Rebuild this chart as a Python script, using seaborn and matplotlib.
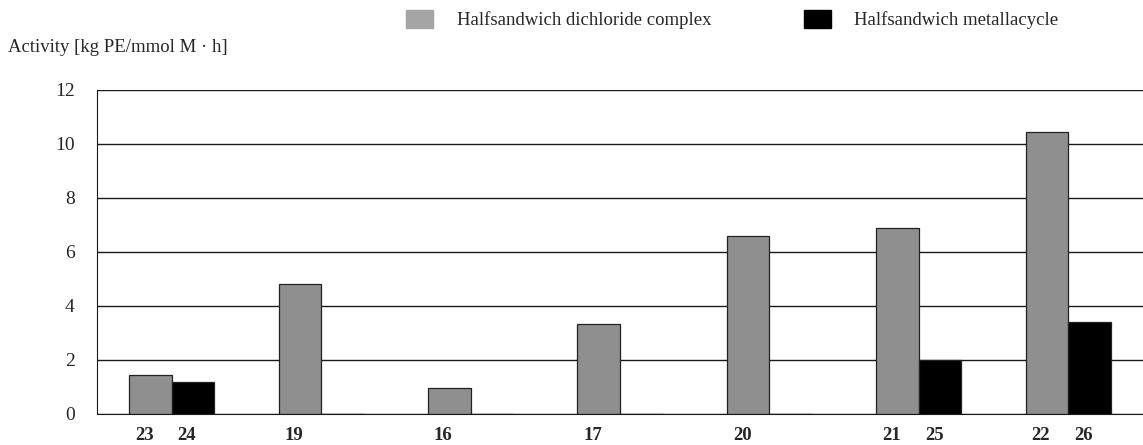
import numpy as np
import pandas as pd
import matplotlib
matplotlib.use('Agg')
import matplotlib.pyplot as plt
import matplotlib.transforms as mtransforms
from matplotlib.patches import Patch
import seaborn as sns

# data
GROUPS = ['23/24', '19', '16', '17', '20', '21/25', '22/26']
DICHLORIDE = [1.45, 4.8, 0.95, 3.35, 6.6, 6.9, 10.45]
METALLACYCLE = [1.2, 0, 0, 0, 0, 2.0, 3.4]
DICHLORIDE_LABELS = ['23', '19', '16', '17', '20', '21', '22']
METALLACYCLE_LABELS = ['24', '', '', '', '', '25', '26']
SERIES = ['Halfsandwich dichloride complex', 'Halfsandwich metallacycle']
YTICKS = [0, 2, 4, 6, 8, 10, 12]

GRAY = '#8f8f8f'

df = pd.DataFrame({
    'group': GROUPS * 2,
    'activity': DICHLORIDE + METALLACYCLE,
    'complex': [SERIES[0]] * len(GROUPS) + [SERIES[1]] * len(GROUPS),
    'label': DICHLORIDE_LABELS + METALLACYCLE_LABELS,
})

sns.set_style('white')
plt.rcParams['font.family'] = ['Liberation Serif', 'DejaVu Serif']

fig = plt.figure(figsize=(11.43, 4.45), dpi=100)
ax = fig.add_axes([97 / 1143, 1 - 414 / 445, 1 - 97 / 1143, (414 - 90) / 445])

sns.barplot(data=df, x='group', y='activity', hue='complex', hue_order=SERIES,
            palette=[GRAY, 'black'], width=0.57, gap=0, dodge=True,
            edgecolor='#222222', linewidth=0.9, legend=False, ax=ax)

ax.set_ylim(0, 12)
ax.set_xlim(-0.5, 6.43)
ax.set_yticks(YTICKS)
ax.set_yticklabels([str(v) for v in YTICKS], fontsize=14)
for y in YTICKS:
    ax.axhline(y, color='#1a1a1a', lw=1.0, zorder=0.5)

# category labels under each bar (taken from the bar patches)
pos, labs = [], []
for p, lab in zip(ax.patches, df['label']):
    if lab:
        pos.append(p.get_x() + p.get_width() / 2)
        labs.append(lab)
ax.set_xticks(pos)
ax.set_xticklabels(labs, fontsize=13.5, fontweight='bold')
ax.tick_params(axis='x', which='major', length=0, pad=9)
offset = mtransforms.ScaledTranslation(-6 / 100, 0, fig.dpi_scale_trans)
for t in ax.get_xticklabels():
    t.set_transform(t.get_transform() + offset)
ax.set_xticks(np.arange(-0.5, len(GROUPS), 1), minor=True)
ax.tick_params(axis='x', which='minor', direction='out', length=7, width=1.0, color='#1a1a1a')
ax.tick_params(axis='y', direction='out', length=7, width=1.0, color='#1a1a1a', pad=9)
ax.set_xlabel('')
ax.set_ylabel('')

for s in ['top', 'right']:
    ax.spines[s].set_visible(False)
ax.spines['left'].set_color('#1a1a1a')
ax.spines['bottom'].set_color('#1a1a1a')

fig.text(8 / 1143, 1 - 47 / 445, 'Activity [kg PE/mmol M \u00b7 h]', fontsize=13.5,
         va='center', ha='left')

handles = [Patch(facecolor='#a5a5a5', edgecolor='#a5a5a5'),
           Patch(facecolor='black', edgecolor='black')]
fig.legend(handles, SERIES, loc='upper left', bbox_to_anchor=(406 / 1143, 1 - 10 / 445),
           ncol=2, frameon=False, fontsize=13.5, handlelength=1.45, handleheight=1.1,
           handletextpad=1.25, columnspacing=4.93, borderpad=0, borderaxespad=0)

plt.savefig('out.png', dpi=100)
